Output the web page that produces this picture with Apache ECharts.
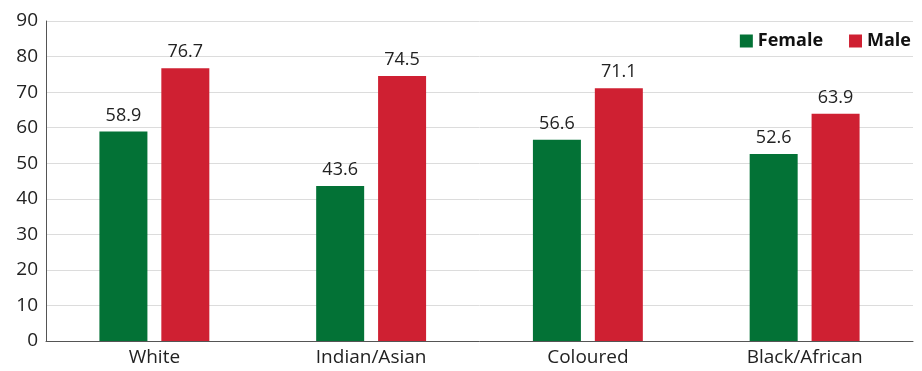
<!DOCTYPE html>
<html>
<head>
<meta charset="utf-8">
<script src="https://cdn.jsdelivr.net/npm/echarts@6/dist/echarts.min.js"></script>
<style>
  html, body { margin: 0; padding: 0; background: #fff; }
  #chart { width: 922px; height: 371px; }
</style>
</head>
<body>
<div id="chart"></div>
<script>
const categories = ['White', 'Indian/Asian', 'Coloured', 'Black/African'];
const female = [58.9, 43.6, 56.6, 52.6];
const male = [76.7, 74.5, 71.1, 63.9];
const yTicks = { min: 0, max: 90, interval: 10 };

const FONT = '"Open Sans", "Noto Sans", sans-serif';
const chart = echarts.init(document.getElementById('chart'), null, { renderer: 'canvas' });

const labelStyle = {
  show: true,
  position: 'top',
  distance: 7,
  color: '#222',
  fontFamily: FONT,
  fontSize: 18,
  formatter: p => p.value.toFixed(1)
};

chart.setOption({
  animation: false,
  textStyle: { fontFamily: FONT },
  legend: {
    right: 6,
    top: 27,
    itemWidth: 13,
    itemHeight: 13,
    itemGap: 26,
    icon: 'rect',
    textStyle: { fontFamily: FONT, fontSize: 18, fontWeight: 'bold', color: '#111' },
    data: ['Female', 'Male']
  },
  grid: { left: 46, right: 9, top: 21, bottom: 30, containLabel: false },
  xAxis: {
    type: 'category',
    data: categories,
    axisLine: { lineStyle: { color: '#555', width: 1 } },
    axisTick: { show: false },
    axisLabel: { color: '#222', fontFamily: FONT, fontSize: 19, margin: 7 }
  },
  yAxis: {
    type: 'value',
    min: yTicks.min,
    max: yTicks.max,
    interval: yTicks.interval,
    axisLine: { show: true, lineStyle: { color: '#555', width: 1 } },
    axisTick: { show: false },
    axisLabel: { color: '#222', fontFamily: FONT, fontSize: 19, margin: 8 },
    splitLine: { lineStyle: { color: '#dcdcdc', width: 1 } }
  },
  series: [
    {
      name: 'Female',
      type: 'bar',
      data: female,
      barWidth: 48,
      barGap: '29%',
      itemStyle: { color: '#037236' },
      label: labelStyle
    },
    {
      name: 'Male',
      type: 'bar',
      data: male,
      barWidth: 48,
      itemStyle: { color: '#cf2032' },
      label: labelStyle
    }
  ]
});
</script>
</body>
</html>
